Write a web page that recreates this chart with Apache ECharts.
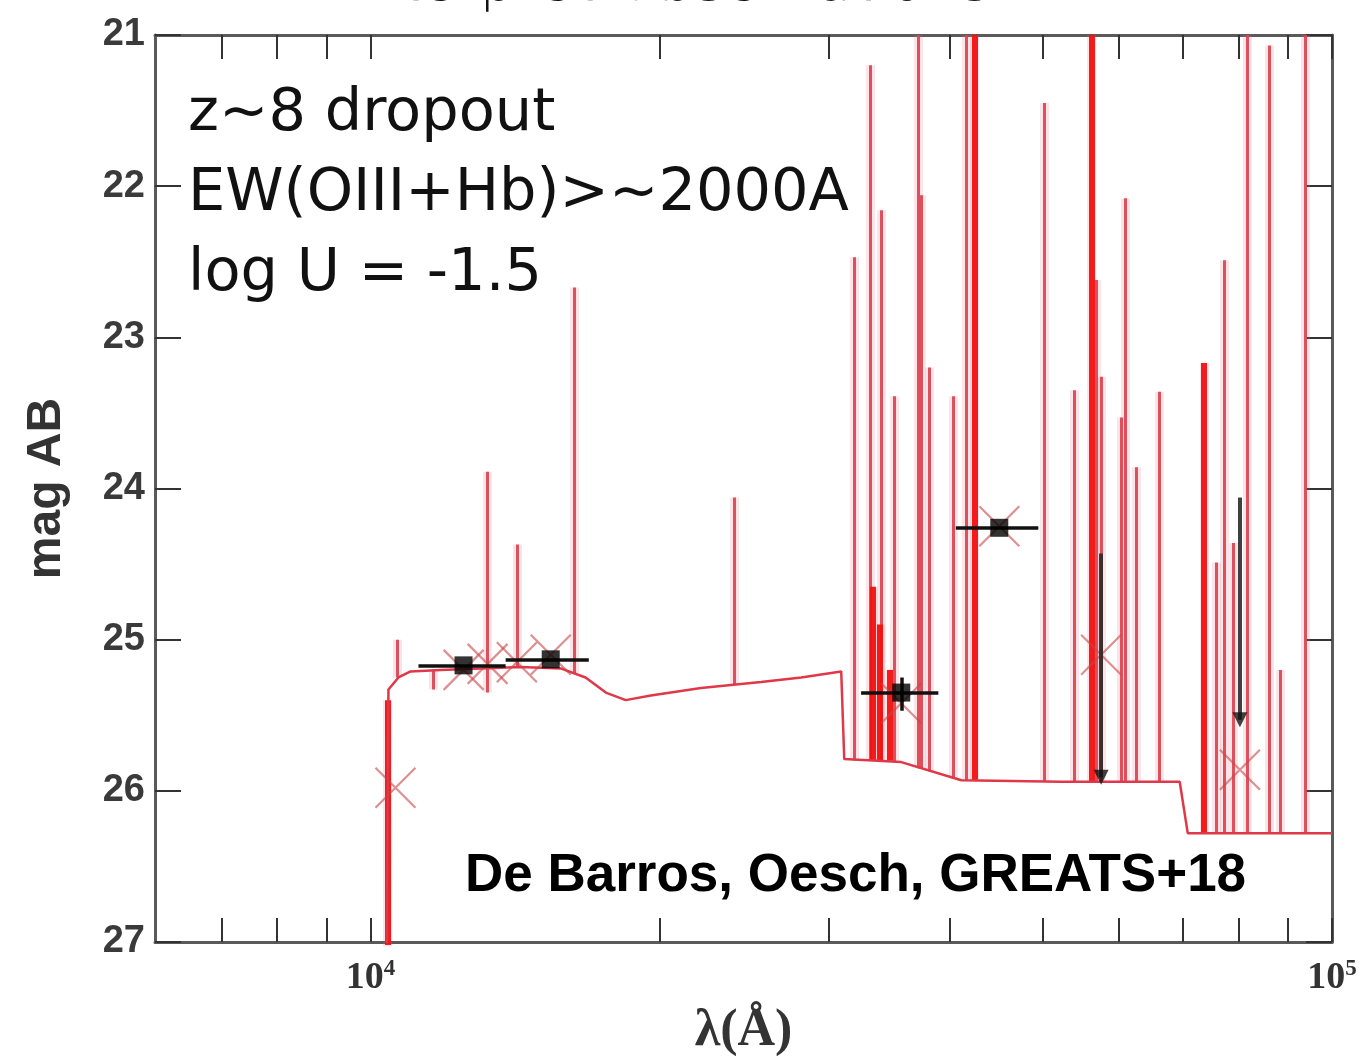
<!DOCTYPE html>
<html>
<head>
<meta charset="utf-8">
<script src="https://cdn.jsdelivr.net/npm/echarts@6/dist/echarts.min.js"></script>
<style>
  html, body { margin: 0; padding: 0; background: #ffffff; }
  #chart { width: 1367px; height: 1056px; }
</style>
</head>
<body>
<div id="chart"></div>
<script>
// ---------------- data ----------------
// model continuum (wavelength in Angstrom, AB magnitude)
const continuumWave = [10380, 10441, 10694, 11008, 11829, 13023, 14330, 15770, 16740, 17570, 18430, 19570, 22070, 25480, 28050, 30875, 31100, 35650, 41170, 52320, 69440, 70790, 100000];
const continuumMag  = [28.0, 25.33, 25.25, 25.21, 25.20, 25.19, 25.18, 25.19, 25.25, 25.35, 25.40, 25.37, 25.32, 25.28, 25.25, 25.21, 25.79, 25.81, 25.93, 25.94, 25.94, 26.28, 26.28];

// nebular emission lines: wavelength, base magnitude, peak magnitude
const lineWave = [10668, 11630, 13242, 14225, 16310, 23880, 31860, 33110, 33990, 35070, 37140, 37410, 38140, 40400, 41680, 50240, 53990, 56910, 57600, 60430, 61010, 62640, 66200, 75860, 77330, 79030, 81540, 85950, 88250, 93740];
const lineBase = [25.25, 25.20, 25.35, 25.18, 25.22, 25.30, 25.80, 25.80, 25.80, 25.81, 25.85, 25.85, 25.87, 25.92, 25.93, 25.94, 25.94, 25.94, 25.94, 25.94, 25.94, 25.94, 25.94, 26.28, 26.28, 26.28, 26.28, 26.28, 26.28, 26.28];
const linePeak = [25.00, 25.33, 23.89, 24.37, 22.67, 24.06, 22.47, 21.20, 22.16, 23.39, 21.00, 22.06, 23.20, 23.39, 21.00, 21.45, 23.35, 22.62, 23.26, 23.53, 22.08, 23.86, 23.36, 24.49, 22.49, 24.36, 21.00, 21.07, 25.20, 21.00];

// strongest lines
const strongWave = [10420, 33300, 33900, 34700, 42490, 56230, 73560];
const strongBase = [27.20, 25.80, 25.80, 25.80, 25.93, 25.94, 26.28];
const strongPeak = [25.40, 24.65, 24.90, 25.20, 21.00, 21.00, 23.17];

// observed photometry (detections)
const photWave = [12498, 15400, 35650, 45080];
const photMag  = [25.17, 25.13, 25.35, 24.26];
const photWaveLo = [11220, 13824, 32380, 40620];
const photWaveHi = [13824, 16870, 38960, 49500];
const photMagLo = [25.17, 25.13, 25.25, 24.26];
const photMagHi = [25.17, 25.13, 25.47, 24.26];

// upper limits
const limWave = [57530, 80210];
const limTop  = [24.43, 24.06];
const limMag  = [25.91, 25.53];

// model band magnitudes (crosses)
const modelWave = [10618, 12500, 13240, 14200, 15400, 35650, 45080, 57530, 80210];
const modelMag  = [25.98, 25.20, 25.16, 25.15, 25.10, 25.42, 24.25, 25.10, 25.86];

// axes
const xTickValues = [7000, 8000, 9000, 10000, 20000, 30000, 40000, 50000, 60000, 70000, 80000, 90000, 100000];
const xLabelValues = [10000, 100000];
const yMin = 21, yMax = 27, yStep = 1;

const titleText = 'Interpret Observations';
const noteLines = ['z~8 dropout', 'EW(OIII+Hb)>~2000A', 'log U = -1.5'];
const creditText = 'De Barros, Oesch, GREATS+18';

// ---------------- chart ----------------
const chart = echarts.init(document.getElementById('chart'), null, { renderer: 'canvas' });

function segs(w, a, b) {
  return w.map((v, i) => ({ coords: [[v, a[i]], [v, b[i]]] }));
}

const baseX = {
  type: 'log', logBase: 10, min: 5970, max: 100000,
  axisLine: { show: true, lineStyle: { color: '#5a5a5a', width: 3 } },
  axisTick: { show: true, inside: true, length: 24, customValues: xTickValues, lineStyle: { color: '#333', width: 2 } },
  splitLine: { show: false },
  minorTick: { show: false }
};
const baseY = {
  type: 'value', inverse: true, min: yMin, max: yMax, interval: yStep,
  axisLine: { show: true, lineStyle: { color: '#5a5a5a', width: 3 } },
  axisTick: { show: true, inside: true, length: 26, lineStyle: { color: '#333', width: 2 } },
  splitLine: { show: false }
};

const option = {
  backgroundColor: '#ffffff',
  animation: false,
  grid: { left: 155, right: 35, top: 35, bottom: 114, containLabel: false, outerBoundsMode: 'none' },
  xAxis: [
    Object.assign({}, baseX, {
      position: 'bottom',
      name: 'λ(Å)', nameLocation: 'middle', nameGap: 64,
      nameTextStyle: { fontFamily: 'Liberation Serif', fontWeight: 'bold', fontSize: 52, color: '#333' },
      axisLabel: {
        show: true, customValues: xLabelValues, margin: 16,
        formatter: function (v) { return '{b|10}{s|' + Math.round(Math.log10(v)) + '}'; },
        rich: {
          b: { fontFamily: 'Liberation Serif', fontWeight: 'bold', fontSize: 38, color: '#333' },
          s: { fontFamily: 'Liberation Serif', fontWeight: 'bold', fontSize: 23, color: '#333', padding: [0, 0, 17, 0] }
        }
      }
    }),
    Object.assign({}, baseX, { position: 'top', axisLabel: { show: false } })
  ],
  yAxis: [
    Object.assign({}, baseY, {
      position: 'left',
      name: 'mag AB', nameLocation: 'middle', nameGap: 84, nameRotate: 90,
      nameTextStyle: { fontFamily: 'Liberation Sans', fontWeight: 'bold', fontSize: 48, color: '#333' },
      axisLabel: { show: true, margin: 10, fontFamily: 'Liberation Sans', fontWeight: 'bold', fontSize: 38, color: '#3a3a3a' }
    }),
    Object.assign({}, baseY, { position: 'right', axisLabel: { show: false } })
  ],
  graphic: [
    { type: 'text', x: 668, y: -15, silent: true,
      style: { text: titleText, font: '300 57px "DejaVu Sans", sans-serif', fill: '#111', textAlign: 'center', verticalAlign: 'middle' } },
    { type: 'text', x: 188, y: 75, silent: true,
      style: { text: noteLines.join('\n'), font: '400 59px "DejaVu Sans", sans-serif', lineHeight: 80, fill: '#111', verticalAlign: 'top' } },
    { type: 'text', x: 465, y: 850, silent: true,
      style: { text: creditText, font: 'bold 53px "Liberation Sans", Arial, sans-serif', fill: '#000', verticalAlign: 'top' } }
  ],
  series: [
    { name: 'linesHalo', type: 'lines', coordinateSystem: 'cartesian2d', xAxisIndex: 0, yAxisIndex: 0, z: 1,
      clip: true, silent: true,
      lineStyle: { color: '#f07080', width: 9, opacity: 0.18 },
      data: segs(lineWave, lineBase, linePeak).concat(segs(strongWave, strongBase, strongPeak)) },
    { name: 'lines', type: 'lines', coordinateSystem: 'cartesian2d', xAxisIndex: 0, yAxisIndex: 0, z: 2,
      clip: true, silent: true,
      lineStyle: { color: '#d8404e', width: 3, opacity: 0.9 },
      data: segs(lineWave, lineBase, linePeak) },
    { name: 'strong', type: 'lines', coordinateSystem: 'cartesian2d', xAxisIndex: 0, yAxisIndex: 0, z: 3,
      clip: true, silent: true,
      lineStyle: { color: '#f21010', width: 6, opacity: 0.95 },
      data: segs(strongWave, strongBase, strongPeak) },
    { name: 'continuum', type: 'line', xAxisIndex: 0, yAxisIndex: 0, z: 4, clip: true, silent: true,
      showSymbol: false, symbol: 'none',
      lineStyle: { color: '#e03848', width: 2.5 },
      data: continuumWave.map((w, i) => [w, continuumMag[i]]) },
    { name: 'model', type: 'scatter', xAxisIndex: 0, yAxisIndex: 0, z: 5, silent: true,
      symbol: 'path://M0,0L10,10M10,0L0,10', symbolSize: 40,
      itemStyle: { color: 'none', borderColor: 'rgba(200,70,70,0.75)', borderWidth: 2.2 },
      data: modelWave.map((w, i) => [w, modelMag[i]]) },
    { name: 'xerr', type: 'lines', coordinateSystem: 'cartesian2d', xAxisIndex: 0, yAxisIndex: 0, z: 6, silent: true,
      lineStyle: { color: '#111', width: 3.5, opacity: 1 },
      data: photWave.map((w, i) => ({ coords: [[photWaveLo[i], photMag[i]], [photWaveHi[i], photMag[i]]] }))
        .concat(segs(photWave, photMagLo, photMagHi)) },
    { name: 'limits', type: 'lines', coordinateSystem: 'cartesian2d', xAxisIndex: 0, yAxisIndex: 0, z: 6, silent: true,
      lineStyle: { color: '#2a2a2a', width: 4, opacity: 0.9 },
      data: segs(limWave, limTop, limMag) },
    { name: 'arrows', type: 'scatter', xAxisIndex: 0, yAxisIndex: 0, z: 7, silent: true,
      symbol: 'triangle', symbolRotate: 180, symbolSize: 15,
      itemStyle: { color: '#111' },
      data: limWave.map((w, i) => [w, limMag[i]]) },
    { name: 'phot', type: 'scatter', xAxisIndex: 0, yAxisIndex: 0, z: 8, silent: true,
      symbol: 'rect', symbolSize: 18,
      itemStyle: { color: '#000' },
      data: photWave.map((w, i) => [w, photMag[i]]) }
  ]
};
chart.setOption(option);
</script>
</body>
</html>
